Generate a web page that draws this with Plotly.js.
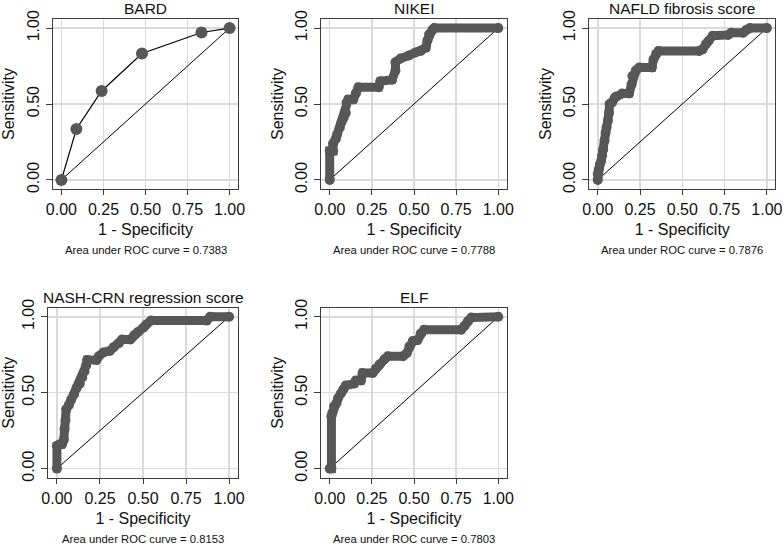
<!DOCTYPE html>
<html>
<head>
<meta charset="utf-8">
<script src="https://cdn.plot.ly/plotly-3.0.1.min.js"></script>
<style>html,body{margin:0;padding:0;background:#fff;}#chart{width:784px;height:546px;}</style>
</head>
<body>
<div id="chart"></div>
<script>
// ---------- data ----------
const panelTitles = ["BARD", "NIKEI", "NAFLD fibrosis score", "NASH-CRN regression score", "ELF"];
const aucValues = ["0.7383", "0.7788", "0.7876", "0.8153", "0.7803"];
const xTickVals = [0, 0.25, 0.5, 0.75, 1];
const xTickText = ["0.00", "0.25", "0.50", "0.75", "1.00"];
const yTickVals = [0, 0.5, 1];
const yTickText = ["0.00", "0.50", "1.00"];
const refX = [0, 1];
const refY = [0, 1];

const bardFpr = [0, 0.089, 0.239, 0.479, 0.833, 1];
const bardTpr = [0, 0.335, 0.586, 0.833, 0.971, 1];

const nikeiFpr = [0, 0, 0.02, 0.02, 0.036, 0.044, 0.06, 0.07, 0.083, 0.095, 0.10, 0.11, 0.14, 0.155, 0.17, 0.29, 0.30, 0.37, 0.39, 0.39, 0.42, 0.47, 0.51, 0.54, 0.57, 0.58, 0.59, 0.61, 0.62, 1];
const nikeiTpr = [0, 0.19, 0.19, 0.24, 0.27, 0.30, 0.345, 0.38, 0.41, 0.44, 0.51, 0.53, 0.53, 0.57, 0.61, 0.61, 0.65, 0.66, 0.72, 0.775, 0.80, 0.82, 0.84, 0.85, 0.87, 0.92, 0.96, 0.99, 1, 1];

const nafldFpr = [0, 0, 0.006, 0.012, 0.02, 0.026, 0.032, 0.04, 0.046, 0.052, 0.06, 0.066, 0.07, 0.085, 0.10, 0.11, 0.145, 0.185, 0.20, 0.205, 0.225, 0.245, 0.32, 0.33, 0.345, 0.36, 0.60, 0.62, 0.64, 0.655, 0.68, 0.77, 0.79, 0.86, 0.88, 0.90, 1];
const nafldTpr = [0, 0.04, 0.07, 0.10, 0.125, 0.16, 0.20, 0.26, 0.31, 0.345, 0.39, 0.44, 0.50, 0.51, 0.54, 0.55, 0.57, 0.57, 0.63, 0.685, 0.72, 0.74, 0.74, 0.795, 0.83, 0.85, 0.85, 0.86, 0.895, 0.915, 0.95, 0.955, 0.97, 0.97, 0.99, 1, 1];

const nashFpr = [0, 0, 0.017, 0.03, 0.04, 0.044, 0.05, 0.054, 0.07, 0.083, 0.10, 0.114, 0.133, 0.147, 0.16, 0.17, 0.176, 0.23, 0.243, 0.27, 0.307, 0.33, 0.36, 0.378, 0.427, 0.45, 0.47, 0.504, 0.52, 0.547, 0.87, 0.89, 1];
const nashTpr = [0, 0.15, 0.16, 0.16, 0.19, 0.26, 0.32, 0.39, 0.42, 0.455, 0.49, 0.53, 0.56, 0.60, 0.64, 0.68, 0.715, 0.715, 0.74, 0.765, 0.775, 0.80, 0.826, 0.85, 0.85, 0.88, 0.90, 0.93, 0.95, 0.975, 0.975, 1, 1];

const elfFpr = [0, 0.01, 0.01, 0.016, 0.026, 0.04, 0.05, 0.066, 0.08, 0.095, 0.145, 0.155, 0.185, 0.195, 0.255, 0.275, 0.295, 0.325, 0.345, 0.435, 0.457, 0.473, 0.493, 0.52, 0.54, 0.56, 0.78, 0.80, 0.82, 0.84, 1];
const elfTpr = [0, 0, 0.345, 0.37, 0.41, 0.43, 0.465, 0.495, 0.52, 0.547, 0.56, 0.58, 0.58, 0.63, 0.63, 0.66, 0.685, 0.72, 0.74, 0.74, 0.76, 0.805, 0.84, 0.845, 0.89, 0.915, 0.915, 0.94, 0.97, 0.995, 1];

// ---------- layout geometry (pixels) ----------
const W = 784, H = 546;
const boxes = [
  {l: 53,    r: 238,   t: 19,    b: 189},
  {l: 321.3, r: 506.7, t: 19,    b: 189},
  {l: 589.3, r: 775.3, t: 19,    b: 189},
  {l: 48.3,  r: 237.7, t: 307.7, b: 477.7},
  {l: 321.3, r: 506.7, t: 307.7, b: 477.7}
];
const FONT = "Liberation Sans, Arial, sans-serif";
const MARK = "#575757";
const curves = [
  {x: bardFpr, y: bardTpr, big: true},
  {x: nikeiFpr, y: nikeiTpr},
  {x: nafldFpr, y: nafldTpr},
  {x: nashFpr, y: nashTpr},
  {x: elfFpr, y: elfTpr}
];

const traces = [];
const layout = {
  width: W, height: H,
  margin: {l: 0, r: 0, t: 0, b: 0},
  paper_bgcolor: "#fff", plot_bgcolor: "#fff",
  showlegend: false,
  font: {family: FONT, color: "#111", size: 16},
  annotations: []
};

boxes.forEach((b, i) => {
  const n = i + 1;
  const xa = "x" + (n === 1 ? "" : n), ya = "y" + (n === 1 ? "" : n);
  const xKey = "xaxis" + (n === 1 ? "" : n), yKey = "yaxis" + (n === 1 ? "" : n);
  const axCommon = {
    showgrid: true, gridcolor: "#dadada", gridwidth: 1.5,
    zeroline: false, showline: true, mirror: true,
    linecolor: "#3c3c3c", linewidth: 1,
    ticks: "outside", ticklen: 6, tickcolor: "#3c3c3c", tickwidth: 1,
    tickfont: {family: FONT, size: 16, color: "#111"},
    fixedrange: true, automargin: false
  };
  layout[xKey] = Object.assign({}, axCommon, {
    domain: [b.l / W, b.r / W],
    anchor: ya,
    range: [-0.05, 1.05],
    tickvals: xTickVals, ticktext: xTickText,
    ticklen: 5,
    ticklabelstandoff: 1,
    title: {text: "1 - Specificity", font: {family: FONT, size: 16, color: "#111"}, standoff: 6}
  });
  layout[yKey] = Object.assign({}, axCommon, {
    domain: [1 - b.b / H, 1 - b.t / H],
    anchor: xa,
    range: [-0.06, 1.06],
    tickvals: yTickVals, ticktext: yTickText,
    tickangle: -90,
    ticklabelstandoff: 1,
    title: {text: "Sensitivity", font: {family: FONT, size: 16, color: "#111"}, standoff: 5}
  });

  // reference diagonal
  traces.push({
    x: refX, y: refY, xaxis: xa, yaxis: ya,
    mode: "lines", line: {color: "#000", width: 1}, hoverinfo: "skip"
  });
  const c = curves[i];
  if (c.big) {
    traces.push({
      x: c.x, y: c.y, xaxis: xa, yaxis: ya,
      mode: "lines+markers",
      line: {color: "#000", width: 1.2},
      marker: {color: MARK, size: 12}
    });
  } else {
    traces.push({
      x: c.x, y: c.y, xaxis: xa, yaxis: ya,
      mode: "lines+markers",
      line: {color: MARK, width: 9},
      marker: {color: MARK, size: 10}
    });
  }

  const cx = (b.l + b.r) / 2 / W;
  layout.annotations.push({
    xref: "paper", yref: "paper", x: cx, y: 1 - (b.t - 10.5) / H,
    xanchor: "center", yanchor: "middle", showarrow: false,
    text: panelTitles[i], font: {family: FONT, size: 15.5, color: "#111"}
  });
  layout.annotations.push({
    xref: "paper", yref: "paper", x: cx, y: 1 - (b.b + 61.5) / H,
    xanchor: "center", yanchor: "middle", showarrow: false,
    text: "Area under ROC curve = " + aucValues[i], font: {family: FONT, size: 11.3, color: "#111"}
  });
});

Plotly.newPlot("chart", traces, layout, {displayModeBar: false, staticPlot: true});
</script>
</body>
</html>
